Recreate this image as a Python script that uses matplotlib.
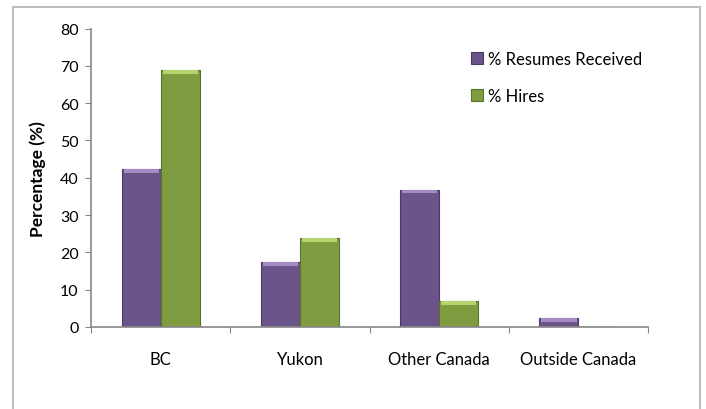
import numpy as np
import matplotlib.pyplot as plt
from matplotlib.patches import Rectangle

# data
categories = ["BC", "Yukon", "Other Canada", "Outside Canada"]
resumes = [42.3, 17.3, 36.8, 2.4]
hires = [68.8, 23.8, 7.0, 0.0]
series_names = ["% Resumes Received", "% Hires"]

plt.rcParams['font.family'] = ['Lato', 'DejaVu Sans']

fig = plt.figure(figsize=(7.06, 4.10), dpi=100)
ax = fig.add_axes([0.129, 0.2, 0.789, 0.728])

# light grey frame round the chart area
fig.patches.append(Rectangle((13 / 706, -0.05), 687 / 706, 1 - 8 / 410 + 0.05,
                             transform=fig.transFigure, fill=False,
                             edgecolor="#bdbdbd", linewidth=1.5))

x = np.arange(len(categories)) + 0.5
w = 0.28
styles = [("#6a5489", "#4b3a63", "#a58bc6"), ("#7f9c40", "#5a7229", "#b5d46c")]

for vals, off, (face, edge, light), name in zip([resumes, hires], [-w / 2, w / 2], styles, series_names):
    ax.bar(x + off, vals, width=w, color=face, edgecolor=edge, linewidth=0.8, label=name)
    # lighter bevel strip at the top of each bar
    vals = np.array(vals)
    cap = np.minimum(vals, 1.0)
    ax.bar(x + off, cap, bottom=vals - cap, width=w * 0.9, color=light, linewidth=0)

ax.set_xlim(0, len(categories))
ax.set_ylim(0, 80)
ax.set_yticks(np.arange(0, 81, 10))
ax.set_xticks(np.arange(0, len(categories) + 1), minor=False)
ax.set_xticklabels([])
ax.set_xticks(x, minor=True)
ax.set_xticklabels(categories, minor=True)
ax.tick_params(axis='x', which='minor', length=0, pad=17, labelsize=12)
ax.tick_params(axis='x', which='major', length=4, color="#868686", direction='out')
ax.tick_params(axis='y', length=4, color="#868686", labelsize=11.5, pad=5)

for s in ["top", "right"]:
    ax.spines[s].set_visible(False)
for s in ["left", "bottom"]:
    ax.spines[s].set_color("#868686")
    ax.spines[s].set_linewidth(1.2)

ax.set_ylabel("Percentage (%)", fontsize=12.5, fontweight='bold', labelpad=10)

handles, labels = ax.get_legend_handles_labels()
ax.legend(handles[:2], labels[:2], loc='upper left', bbox_to_anchor=(0.655, 0.975),
          frameon=False, fontsize=12, handlelength=0.7, handleheight=0.7,
          handletextpad=0.35, labelspacing=1.25)

fig.savefig("out.png", dpi=100)
